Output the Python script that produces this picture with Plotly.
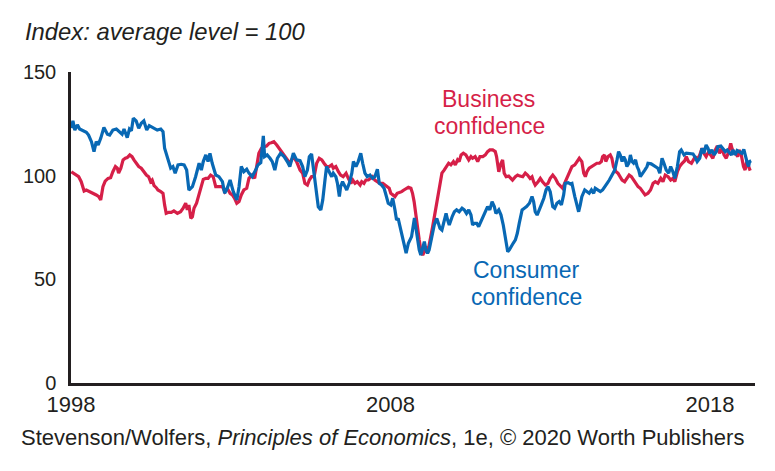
import plotly.graph_objects as go

# Consumer confidence (blue) - decimal year, index value
consumer_t = [1998.01,1998.06,1998.12,1998.20,1998.27,1998.38,1998.48,1998.55,1998.64,1998.72,1998.79,1998.85,1998.93,
1999.03,1999.14,1999.21,1999.31,1999.42,1999.52,1999.60,1999.66,1999.70,1999.76,1999.83,1999.89,1999.95,
2000.04,2000.12,2000.20,2000.28,2000.37,2000.45,2000.54,2000.62,2000.70,2000.81,2000.88,2000.93,
2001.04,2001.12,2001.19,2001.26,2001.35,2001.45,2001.54,2001.62,2001.69,2001.80,2001.90,
2002.01,2002.08,2002.14,2002.22,2002.29,2002.35,2002.42,2002.53,2002.63,2002.74,2002.81,2002.89,2002.98,
2003.08,2003.19,2003.26,2003.33,2003.41,2003.50,2003.57,2003.67,2003.78,2003.85,2003.94,
2004.02,2004.06,2004.14,2004.23,2004.30,2004.38,2004.46,2004.56,2004.67,2004.77,2004.85,2004.96,
2005.06,2005.17,2005.25,2005.32,2005.40,2005.46,2005.53,2005.58,2005.64,2005.69,2005.74,2005.82,2005.88,2005.95,
2006.00,2006.08,2006.16,2006.21,2006.29,2006.34,2006.40,2006.44,2006.50,2006.58,2006.63,2006.71,2006.79,2006.84,2006.92,2006.99,
2007.07,2007.13,2007.20,2007.27,2007.36,2007.44,2007.51,2007.59,2007.65,2007.72,2007.80,2007.86,2007.93,
2008.01,2008.07,2008.14,2008.19,2008.24,2008.32,2008.40,2008.49,2008.56,2008.66,2008.75,2008.80,2008.85,2008.90,2008.95,
2009.01,2009.06,2009.11,2009.16,2009.21,2009.27,2009.32,2009.37,2009.45,2009.51,2009.55,2009.61,2009.68,2009.74,2009.79,2009.84,2009.93,
2010.00,2010.07,2010.15,2010.24,2010.31,2010.38,2010.45,2010.52,2010.57,2010.62,2010.70,2010.76,2010.83,2010.91,2010.99,
2011.04,2011.11,2011.18,2011.25,2011.30,2011.39,2011.46,2011.53,2011.59,2011.67,2011.72,2011.77,2011.84,2011.91,2011.97,
2012.03,2012.12,2012.19,2012.26,2012.35,2012.43,2012.48,2012.53,2012.59,2012.64,2012.72,2012.80,2012.87,2012.93,
2013.00,2013.08,2013.14,2013.21,2013.28,2013.35,2013.42,2013.47,2013.56,2013.63,2013.68,2013.77,2013.84,2013.89,2013.94,2013.99,
2014.08,2014.15,2014.22,2014.29,2014.36,2014.41,2014.49,2014.57,2014.64,2014.70,2014.78,2014.85,2014.93,
2015.02,2015.09,2015.14,2015.19,2015.25,2015.30,2015.35,2015.40,2015.46,2015.51,2015.56,2015.61,2015.67,2015.72,2015.77,2015.82,2015.88,2015.96,
2016.03,2016.06,2016.16,2016.27,2016.37,2016.43,2016.50,2016.56,2016.63,2016.71,2016.77,2016.84,2016.90,2016.98,
2017.05,2017.10,2017.19,2017.26,2017.36,2017.47,2017.54,2017.60,2017.68,2017.75,2017.81,2017.88,2017.94,2017.99,
2018.06,2018.13,2018.20,2018.25,2018.34,2018.41,2018.48,2018.54,2018.62,2018.67,2018.72,2018.79,2018.85,2018.93,
2019.00,2019.06,2019.11,2019.17,2019.21,2019.24,2019.29]
consumer_v = [122.9,126.4,122.0,124.5,122.5,121.6,120.9,119.6,116.4,111.6,116.4,114.8,118.0,
123.2,120.0,119.6,122.0,122.5,120.9,120.0,122.5,120.9,118.3,122.5,121.6,127.7,
126.4,122.9,125.3,126.4,122.0,124.1,123.2,122.5,122.0,122.5,121.2,113.2,
107.6,103.6,104.4,101.2,105.2,105.5,105.2,102.7,93.1,94.7,99.5,
106.0,102.7,106.8,110.0,106.8,110.8,106.0,100.3,99.5,97.1,91.5,93.9,97.9,
92.3,88.3,94.7,104.4,101.9,103.1,101.2,99.5,102.7,105.2,106.3,
119.2,109.2,110.0,108.4,106.8,102.7,108.4,110.8,109.2,106.8,104.4,110.8,
107.6,107.2,104.4,99.5,102.7,109.2,110.5,104.4,97.9,89.9,85.0,83.5,88.3,97.9,
104.4,101.9,99.5,101.2,99.5,96.3,89.9,94.7,97.1,94.7,93.1,96.3,101.2,106.8,104.4,106.8,
110.8,106.0,101.2,99.5,100.3,98.7,99.5,103.1,96.3,95.5,93.9,90.7,86.7,
85.9,89.1,83.5,78.6,79.4,73.8,68.2,62.6,67.4,70.6,79.6,73.8,69.0,64.2,61.7,
65.8,68.2,64.2,62.6,64.2,69.0,73.0,76.2,79.4,76.2,74.6,73.8,77.8,81.8,78.6,76.2,80.2,
82.6,83.5,82.6,84.3,83.5,81.8,83.5,81.0,76.2,77.0,77.0,75.4,77.8,81.0,83.5,
85.1,83.5,87.5,85.1,81.8,83.5,81.0,76.2,70.6,63.3,64.2,65.8,67.4,69.0,72.2,
77.0,83.5,84.3,85.1,86.7,89.9,87.5,82.6,81.0,82.6,85.9,89.1,93.1,94.7,
92.3,85.1,84.3,86.7,87.5,85.9,90.7,96.3,96.6,96.0,96.3,89.9,85.1,82.6,85.9,89.9,
93.1,92.3,91.5,93.1,91.5,93.9,93.1,92.3,93.1,94.7,96.3,97.9,100.3,
102.7,107.6,111.6,110.0,106.8,109.2,107.6,104.4,106.0,110.0,106.8,106.0,107.6,104.4,102.7,99.5,101.2,102.7,
104.4,106.0,105.7,104.7,103.6,101.2,108.4,106.0,102.7,101.2,104.4,101.9,98.7,104.4,
111.6,112.4,110.0,110.8,110.5,110.5,108.8,106.8,108.4,113.2,110.8,114.8,113.2,110.8,
112.4,110.0,111.6,114.0,114.3,113.2,111.6,112.4,110.8,110.0,112.4,110.0,112.1,111.6,
110.8,112.7,109.2,106.0,104.4,106.8,107.2]

# Business confidence (red)
business_t = [1998.01,1998.09,1998.17,1998.24,1998.32,1998.41,1998.48,1998.55,1998.64,1998.72,1998.79,1998.87,1998.93,
1999.00,1999.07,1999.16,1999.24,1999.31,1999.39,1999.45,1999.49,1999.56,1999.63,1999.70,1999.76,1999.84,1999.91,1999.97,
2000.04,2000.12,2000.20,2000.28,2000.36,2000.43,2000.49,2000.54,2000.60,2000.67,2000.72,2000.81,2000.88,2000.93,2000.98,
2001.06,2001.14,2001.22,2001.33,2001.43,2001.51,2001.59,2001.64,2001.69,2001.75,2001.80,2001.85,2001.93,
2002.01,2002.08,2002.14,2002.22,2002.29,2002.37,2002.45,2002.53,2002.58,2002.66,2002.74,2002.81,2002.89,2002.98,
2003.05,2003.12,2003.19,2003.26,2003.33,2003.41,2003.50,2003.57,2003.67,2003.75,2003.81,2003.88,2003.96,
2004.04,2004.12,2004.20,2004.27,2004.35,2004.44,2004.51,2004.58,2004.67,2004.75,2004.85,2004.96,
2005.06,2005.17,2005.25,2005.32,2005.40,2005.46,2005.53,2005.61,2005.69,2005.77,2005.85,2005.92,
2006.00,2006.08,2006.16,2006.21,2006.29,2006.37,2006.44,2006.52,2006.61,2006.68,2006.76,2006.82,2006.89,2006.96,
2007.05,2007.10,2007.17,2007.23,2007.31,2007.38,2007.44,2007.51,2007.59,2007.67,2007.76,2007.83,2007.90,2007.96,
2008.01,2008.07,2008.14,2008.21,2008.28,2008.35,2008.42,2008.49,2008.56,2008.64,2008.69,2008.74,2008.80,2008.85,2008.90,2008.95,
2009.01,2009.06,2009.11,2009.16,2009.21,2009.27,2009.32,2009.37,2009.45,2009.53,2009.61,2009.68,2009.76,2009.82,2009.89,2009.97,
2010.03,2010.10,2010.15,2010.21,2010.28,2010.36,2010.45,2010.52,2010.57,2010.65,2010.73,2010.80,2010.89,2010.97,
2011.04,2011.11,2011.20,2011.28,2011.32,2011.39,2011.46,2011.51,2011.56,2011.62,2011.70,2011.77,2011.82,2011.91,2011.98,
2012.05,2012.14,2012.22,2012.29,2012.37,2012.43,2012.48,2012.53,2012.62,2012.69,2012.76,2012.85,2012.93,
2013.00,2013.08,2013.16,2013.24,2013.32,2013.39,2013.45,2013.52,2013.60,2013.68,2013.77,2013.84,2013.91,2013.99,
2014.05,2014.10,2014.15,2014.22,2014.31,2014.39,2014.46,2014.54,2014.60,2014.64,2014.70,2014.74,2014.81,2014.88,2014.93,2014.98,
2015.06,2015.12,2015.19,2015.25,2015.33,2015.40,2015.47,2015.54,2015.61,2015.68,2015.75,2015.82,2015.89,2015.97,
2016.06,2016.14,2016.22,2016.29,2016.37,2016.46,2016.53,2016.60,2016.69,2016.77,2016.84,2016.90,2016.98,
2017.05,2017.13,2017.21,2017.26,2017.33,2017.42,2017.47,2017.54,2017.60,2017.68,2017.75,2017.81,2017.88,2017.96,
2018.02,2018.09,2018.17,2018.23,2018.30,2018.38,2018.44,2018.51,2018.59,2018.65,2018.69,2018.76,2018.80,2018.87,2018.91,2018.98,
2019.05,2019.10,2019.15,2019.21,2019.26]
business_v = [101.9,101.2,100.3,99.5,97.1,92.6,93.1,92.6,92.0,91.5,90.7,89.9,88.3,
94.7,97.4,98.7,99.0,101.9,104.4,103.6,101.2,103.6,107.6,108.4,108.7,110.0,109.2,107.6,
106.0,104.4,103.6,101.9,100.3,99.5,97.1,97.9,95.2,94.2,93.1,92.3,91.5,85.9,81.8,
82.3,82.3,83.0,81.8,82.6,84.3,86.7,83.5,85.9,79.4,80.2,84.3,86.7,
91.5,95.5,98.2,98.7,98.7,100.3,99.5,94.7,94.7,95.0,94.7,92.3,93.9,91.5,
90.7,89.1,86.7,87.5,90.7,93.1,93.9,98.7,100.3,98.7,104.4,110.8,113.2,
114.0,114.3,115.6,115.9,116.4,114.8,113.2,111.6,110.0,107.6,106.0,109.2,
106.8,102.7,101.2,96.3,95.5,97.9,99.5,99.5,106.0,108.4,107.6,106.0,
104.4,104.4,105.2,103.6,104.4,101.9,100.3,99.5,101.2,98.7,96.3,97.9,96.3,97.1,
95.5,97.1,96.3,97.9,97.9,98.7,99.5,97.9,97.1,96.3,96.3,95.5,94.7,93.9,
91.5,90.7,89.9,91.5,91.8,92.3,93.1,93.9,94.4,93.9,91.5,87.5,79.4,73.8,69.0,64.2,
61.7,63.3,65.8,62.6,67.4,71.4,75.4,80.2,86.7,93.1,101.2,102.7,104.4,106.0,105.2,106.8,
105.2,107.6,106.8,110.0,110.8,110.0,107.6,109.2,108.4,109.2,106.8,109.2,109.2,110.0,
111.6,112.4,112.4,111.6,109.2,101.9,106.0,107.6,101.2,99.5,99.8,98.7,97.9,99.5,100.3,
99.8,99.5,101.2,100.3,98.7,99.5,97.1,95.5,97.1,98.7,97.1,95.5,96.3,
98.7,100.3,98.7,96.3,94.7,93.9,96.3,98.7,101.9,104.4,105.2,106.8,108.4,106.8,
101.2,99.5,101.9,103.6,104.4,105.2,106.0,106.0,106.8,109.2,110.0,106.8,109.2,110.0,108.4,104.4,
101.9,101.2,99.5,97.9,97.1,98.7,100.3,99.5,97.9,96.3,94.7,93.9,92.3,90.7,
91.5,93.1,96.3,97.1,96.3,98.7,97.1,100.3,99.5,97.9,98.7,97.1,101.9,
104.4,106.0,107.2,109.2,106.8,106.0,107.6,109.2,107.6,110.0,113.2,110.8,109.2,111.6,
110.0,108.4,112.4,114.3,110.8,113.2,110.0,108.4,111.6,115.6,113.2,110.8,110.8,109.2,112.4,110.0,
104.4,102.7,106.8,104.4,102.4]

y_ticks = [0, 50, 100, 150]
x_ticks = [1998, 2008, 2018]

RED = "#D61F48"
BLUE = "#0868B4"
INK = "#231F20"
FONT = "Liberation Sans"

fig = go.Figure()
fig.add_trace(go.Scatter(x=business_t, y=business_v, mode="lines",
                         line=dict(color=RED, width=3.2), name="Business confidence"))
fig.add_trace(go.Scatter(x=consumer_t, y=consumer_v, mode="lines",
                         line=dict(color=BLUE, width=3.2), name="Consumer confidence"))

fig.update_layout(
    width=775, height=471,
    margin=dict(l=71, r=20, t=72, b=88),
    paper_bgcolor="white", plot_bgcolor="white",
    showlegend=False,
    font=dict(family=FONT, color=INK, size=20),
    xaxis=dict(range=[1998, 2019.41], tickvals=x_ticks, ticktext=[str(v) for v in x_ticks],
               showgrid=False, zeroline=False, showline=True, linecolor=INK, linewidth=2.5,
               ticks="",
               tickfont=dict(size=22, family=FONT, color=INK)),
    yaxis=dict(range=[0, 150], tickvals=y_ticks, ticktext=[str(v) for v in y_ticks],
               showgrid=False, zeroline=False, showline=True, linecolor=INK, linewidth=2.5,
               ticks="outside", ticklen=8, tickcolor="rgba(0,0,0,0)",
               tickfont=dict(size=20, family=FONT, color=INK)),
)

labels = [
    ("Business", 2011.08, 137.0, RED),
    ("confidence", 2011.11, 124.0, RED),
    ("Consumer", 2012.24, 54.4, BLUE),
    ("confidence", 2012.27, 41.4, BLUE),
]
for txt, lx, ly, col in labels:
    fig.add_annotation(x=lx, y=ly, xref="x", yref="y", text=txt,
                       showarrow=False, xanchor="center", yanchor="middle",
                       font=dict(size=23, color=col, family=FONT))

fig.add_annotation(x=-0.070, y=1.129, xref="paper", yref="paper", text="<i>Index: average level = 100</i>",
                   showarrow=False, xanchor="left", yanchor="middle",
                   font=dict(size=23.8, family=FONT, color=INK))
fig.add_annotation(x=0.456, y=-0.174, xref="paper", yref="paper",
                   text="Stevenson/Wolfers, <i>Principles of Economics</i>, 1e, © 2020 Worth Publishers",
                   showarrow=False, xanchor="center", yanchor="middle",
                   font=dict(size=22, family=FONT, color=INK))

fig.write_html("out.html")
